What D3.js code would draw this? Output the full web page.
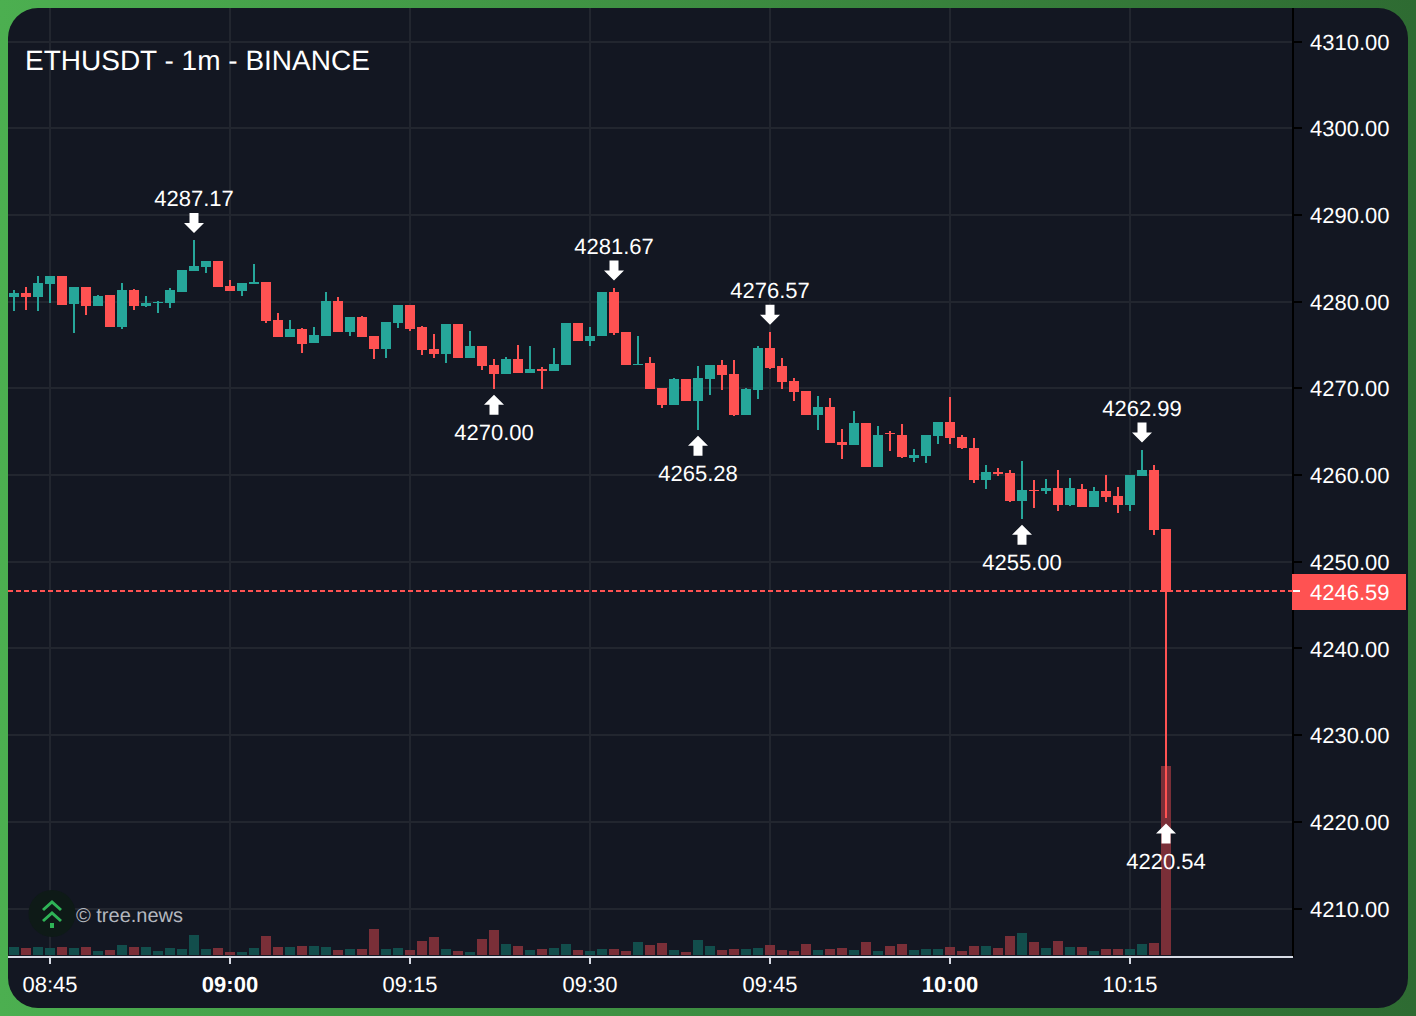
<!DOCTYPE html>
<html>
<head>
<meta charset="utf-8">
<script src="https://cdn.jsdelivr.net/npm/d3@7"></script>
<style>
  html, body { margin: 0; padding: 0; background: #2e6b32; }
  svg { display: block; font-family: "Liberation Sans", Arial, sans-serif; text-rendering: geometricPrecision; }
</style>
</head>
<body>
<svg id="chart" width="1416" height="1016"></svg>
<script>
// candles, one per minute from 08:42
var opens = [4280.59,4281.05,4280.59,4282.09,4283.01,4279.78,4281.74,4279.55,4280.82,4277.12,
  4281.39,4279.55,4279.84,4279.89,4281.16,4283.58,4284.05,4284.74,4281.85,4281.28,
  4282.09,4282.32,4277.93,4275.97,4276.89,4275.28,4276.09,4280.12,4276.55,4278.28,
  4276.09,4274.59,4277.59,4279.66,4277.12,4274.59,4274.01,4277.47,4273.55,4274.93,
  4272.74,4271.70,4273.43,4271.82,4272.28,4272.05,4272.74,4277.59,4275.51,4276.09,
  4281.16,4276.55,4272.74,4272.97,4270.09,4268.13,4271.13,4268.59,4271.13,4272.74,
  4271.70,4266.97,4269.86,4274.70,4272.63,4270.90,4269.74,4266.97,4267.90,4263.87,
  4263.52,4266.05,4260.98,4264.90,4264.67,4262.02,4262.25,4264.56,4266.17,4264.44,
  4263.17,4259.48,4260.40,4260.29,4257.06,4258.33,4258.21,4258.56,4256.60,4258.44,
  4256.37,4258.21,4257.63,4256.60,4259.94,4260.63,4253.83];
var highs = [4281.39,4281.74,4283.01,4283.01,4283.01,4281.74,4281.74,4280.82,4280.82,4282.20,
  4281.51,4280.70,4280.12,4281.62,4283.70,4287.17,4284.74,4284.74,4282.55,4282.20,
  4284.39,4282.32,4278.74,4277.93,4277.01,4277.12,4281.16,4280.59,4278.28,4278.39,
  4276.09,4277.70,4279.66,4279.66,4277.24,4276.32,4277.47,4277.47,4276.66,4274.93,
  4273.43,4273.67,4275.05,4274.93,4272.51,4274.70,4277.59,4277.59,4277.12,4281.16,
  4281.67,4276.55,4276.09,4273.67,4270.09,4271.24,4271.13,4272.63,4272.74,4273.32,
  4273.32,4270.09,4274.93,4276.57,4273.55,4271.24,4269.74,4269.17,4268.94,4265.36,
  4267.44,4266.05,4265.71,4265.13,4265.94,4263.06,4264.67,4266.17,4269.05,4264.67,
  4264.33,4261.21,4260.86,4260.63,4261.67,4259.48,4259.60,4260.63,4259.71,4259.02,
  4258.67,4260.06,4258.67,4260.06,4262.99,4261.21,4253.83];
var lows = [4278.97,4279.09,4278.97,4279.89,4279.66,4276.43,4278.51,4279.55,4277.12,4276.89,
  4279.09,4279.43,4278.74,4279.32,4281.16,4283.58,4283.35,4281.74,4281.28,4280.70,
  4282.09,4277.59,4275.97,4275.97,4274.13,4275.28,4276.09,4276.55,4276.09,4275.97,
  4273.43,4273.55,4277.01,4276.66,4273.90,4273.55,4272.97,4273.55,4273.55,4272.17,
  4270.00,4271.70,4271.82,4271.82,4270.00,4272.05,4272.74,4275.51,4274.93,4276.09,
  4276.20,4272.74,4272.74,4270.00,4267.78,4268.13,4268.59,4265.28,4269.28,4269.86,
  4266.86,4266.97,4268.82,4272.28,4270.00,4268.59,4266.97,4265.28,4263.75,4261.90,
  4263.52,4260.98,4260.98,4262.83,4262.02,4261.55,4261.44,4263.63,4263.63,4263.06,
  4259.13,4258.44,4259.94,4256.94,4255.00,4256.25,4257.86,4255.90,4256.48,4256.37,
  4256.37,4256.94,4255.67,4255.90,4259.94,4253.13,4220.54];
var closes = [4281.05,4280.59,4282.20,4283.01,4279.66,4281.74,4279.55,4280.70,4277.12,4281.39,
  4279.55,4279.89,4280.01,4281.39,4283.70,4284.16,4284.74,4281.74,4281.28,4282.20,
  4282.32,4277.82,4275.97,4276.89,4275.16,4276.20,4280.12,4276.55,4278.28,4275.97,
  4274.59,4277.70,4279.66,4276.89,4274.47,4274.01,4277.47,4273.55,4274.93,4272.63,
  4271.70,4273.43,4271.82,4272.28,4272.05,4272.86,4277.59,4275.51,4276.09,4281.16,
  4276.43,4272.74,4272.86,4270.00,4268.13,4271.13,4268.59,4271.24,4272.74,4271.59,
  4266.97,4270.00,4274.70,4272.40,4270.78,4269.63,4266.97,4267.90,4263.75,4263.52,
  4266.05,4260.98,4264.67,4264.73,4262.13,4262.37,4264.67,4266.17,4264.33,4263.17,
  4259.48,4260.40,4260.18,4257.06,4258.33,4258.21,4258.56,4256.60,4258.56,4256.37,
  4258.21,4257.52,4256.60,4260.06,4260.63,4253.71,4246.59];
var volumes = [8,7,8,7,8,7,8,4,5,10,8,8,4,7,6,20,6,7,3,3,7,19,8,8,9,9,8,5,6,6,
  26,6,7,5,14,18,6,4,3,16,25,11,9,5,6,7,11,5,4,6,6,4,13,10,12,5,3,15,9,5,
  6,6,7,10,5,4,11,5,6,7,5,13,4,9,11,5,6,6,8,4,9,9,7,19,22,13,7,14,8,8,
  4,6,6,6,11,12,189];

var priceTicks = [4310,4300,4290,4280,4270,4260,4250,4240,4230,4220,4210];
var lastPrice = 4246.59;

// local extremes that get an arrow, side 1 = above the high, -1 = below the low
var markIndex = [15,40,50,57,63,84,94,96];
var markSide = [1,-1,1,-1,1,-1,1,-1];

var startTime = new Date(2025, 0, 15, 8, 42);
var times = opens.map((d, i) => d3.timeMinute.offset(startTime, i));

var upColor = "#26a69a", downColor = "#ff5252";
var volUp = "#124e4c", volDown = "#7a2f38";
var gridColor = "#22262f", bgColor = "#131722";

var plotLeft = 8, plotRight = 1293, plotTop = 8, plotBottom = 957;

var x = d3.scaleTime().domain([times[0], times[times.length - 1]]).range([14, 1166]);
var y = d3.scaleLinear().domain([4310, 4210]).range([42, 909]);
var v = d3.scaleLinear().domain([0, 189]).range([955, 766]);

var bodyW = 10, wickW = 2;
var fmt = d3.format(".2f");
var isUp = i => closes[i] >= opens[i];
var py = d => Math.round(y(d));

var svg = d3.select("#chart");
var defs = svg.append("defs");
var grad = defs.append("linearGradient").attr("id", "frame").attr("x1", 0).attr("x2", 1).attr("y1", 0).attr("y2", 0);
grad.append("stop").attr("offset", "0%").attr("stop-color", "#4caf50");
grad.append("stop").attr("offset", "100%").attr("stop-color", "#2e6b32");
defs.append("clipPath").attr("id", "panel").append("rect")
  .attr("x", 8).attr("y", 8).attr("width", 1400).attr("height", 1000).attr("rx", 30);

svg.append("rect").attr("width", 1416).attr("height", 1016).attr("fill", "url(#frame)");
var root = svg.append("g").attr("clip-path", "url(#panel)");
root.append("rect").attr("x", 8).attr("y", 8).attr("width", 1400).attr("height", 1000).attr("fill", bgColor);

var timeTicks = d3.timeMinute.every(15).range(times[0], d3.timeMinute.offset(times[times.length - 1], 1));

// grid
root.append("g").selectAll("line").data(priceTicks).enter().append("line")
  .attr("x1", plotLeft).attr("x2", plotRight)
  .attr("y1", d => Math.floor(y(d))).attr("y2", d => Math.floor(y(d)))
  .attr("stroke", gridColor).attr("stroke-width", 2);
root.append("g").selectAll("line").data(timeTicks).enter().append("line")
  .attr("x1", d => x(d)).attr("x2", d => x(d))
  .attr("y1", plotTop).attr("y2", plotBottom)
  .attr("stroke", gridColor).attr("stroke-width", 2);

// volume
root.append("g").selectAll("rect").data(volumes).enter().append("rect")
  .attr("x", (d, i) => x(times[i]) - bodyW / 2)
  .attr("width", bodyW)
  .attr("y", d => v(d))
  .attr("height", d => v(0) - v(d))
  .attr("fill", (d, i) => isUp(i) ? volUp : volDown);

// last price line sits under the candles
root.append("line")
  .attr("x1", plotLeft).attr("x2", plotRight)
  .attr("y1", Math.floor(y(lastPrice))).attr("y2", Math.floor(y(lastPrice)))
  .attr("stroke", downColor).attr("stroke-width", 2).attr("stroke-dasharray", "5 3");

// candles
var candles = root.append("g").selectAll("g").data(times).enter().append("g");
candles.append("rect")
  .attr("x", d => x(d) - wickW / 2)
  .attr("width", wickW)
  .attr("y", (d, i) => py(highs[i]))
  .attr("height", (d, i) => py(lows[i]) - py(highs[i]))
  .attr("fill", (d, i) => isUp(i) ? upColor : downColor);
candles.append("rect")
  .attr("x", d => x(d) - bodyW / 2)
  .attr("width", bodyW)
  .attr("y", (d, i) => py(Math.max(opens[i], closes[i])))
  .attr("height", (d, i) => Math.max(1, py(Math.min(opens[i], closes[i])) - py(Math.max(opens[i], closes[i]))))
  .attr("fill", (d, i) => isUp(i) ? upColor : downColor);

// arrows and their price labels
var marks = root.append("g").selectAll("g").data(markIndex).enter().append("g")
  .attr("transform", (d, k) => {
    var p = markSide[k] > 0 ? y(highs[d]) - 7 : y(lows[d]) + 6;
    return "translate(" + x(times[d]) + "," + p + ")";
  });
marks.append("path")
  .attr("d", (d, k) => {
    var s = markSide[k];
    return "M0,0 L-10," + (-10 * s) + " L-4.5," + (-10 * s) + " L-4.5," + (-20 * s) +
      " L4.5," + (-20 * s) + " L4.5," + (-10 * s) + " L10," + (-10 * s) + " Z";
  })
  .attr("fill", "#fff");
marks.append("text")
  .attr("text-anchor", "middle")
  .attr("y", (d, k) => markSide[k] > 0 ? -26.5 : 45.5)
  .attr("font-size", 22).attr("fill", "#fff")
  .text((d, k) => fmt(markSide[k] > 0 ? highs[d] : lows[d]));

// right axis
var yAxis = d3.axisRight(y).tickValues(priceTicks).tickSize(9).tickPadding(8).offset(0).tickFormat(fmt);
var yg = root.append("g").attr("transform", "translate(" + plotRight + ",0)").call(yAxis);
yg.select(".domain").remove();
yg.selectAll("line").attr("stroke", "#000").attr("stroke-width", 2)
  .attr("transform", d => "translate(0," + (Math.floor(y(d)) - y(d)) + ")");
yg.selectAll("text").attr("font-size", 22).attr("font-family", "inherit").attr("fill", "#fff")
  .attr("dy", "7.6px");
root.append("line").attr("x1", plotRight).attr("x2", plotRight).attr("y1", plotTop).attr("y2", plotBottom)
  .attr("stroke", "#000").attr("stroke-width", 2);

// bottom axis
var xAxis = d3.axisBottom(x).tickValues(timeTicks).tickSize(7).tickPadding(12).offset(0).tickFormat(d3.timeFormat("%H:%M"));
var xg = root.append("g").attr("transform", "translate(0," + plotBottom + ")").call(xAxis);
xg.select(".domain").remove();
xg.selectAll("line").attr("stroke", "#d8dce6").attr("stroke-width", 2);
xg.selectAll("text").attr("font-size", 22).attr("font-family", "inherit").attr("fill", "#fff")
  .attr("font-weight", d => d.getMinutes() == 0 ? "bold" : "normal");
root.append("line").attr("x1", plotLeft).attr("x2", plotRight).attr("y1", plotBottom).attr("y2", plotBottom)
  .attr("stroke", "#d8dce6").attr("stroke-width", 2);

// last price tag
root.append("rect").attr("x", 1292).attr("y", 574).attr("width", 114).attr("height", 36).attr("fill", downColor);
root.append("line").attr("x1", 1293).attr("x2", 1300).attr("y1", Math.floor(y(lastPrice))).attr("y2", Math.floor(y(lastPrice)))
  .attr("stroke", "#fff").attr("stroke-width", 2);
root.append("text").attr("x", 1310).attr("y", y(lastPrice) + 8.6)
  .attr("font-size", 22).attr("fill", "#fff").text(fmt(lastPrice));

// title
root.append("text").attr("x", 25).attr("y", 70).attr("font-size", 28).attr("fill", "#fff")
  .text("ETHUSDT - 1m - BINANCE");

// logo and watermark
var logo = root.append("g").attr("transform", "translate(52,913.5)");
logo.append("circle").attr("r", 23.5).attr("fill", "#0e1a17");
logo.append("path").attr("d", "M-9,-3.5 L0,-11.5 L9,-3.5 M-9,7.5 L0,-0.5 L9,7.5")
  .attr("fill", "none").attr("stroke", "#2fb457").attr("stroke-width", 3);
logo.append("rect").attr("x", -2).attr("y", 9.5).attr("width", 4).attr("height", 5).attr("fill", "#2fb457");
root.append("text").attr("x", 76).attr("y", 922).attr("font-size", 20).attr("fill", "#b4b7bf")
  .text("© tree.news");
</script>
</body>
</html>
